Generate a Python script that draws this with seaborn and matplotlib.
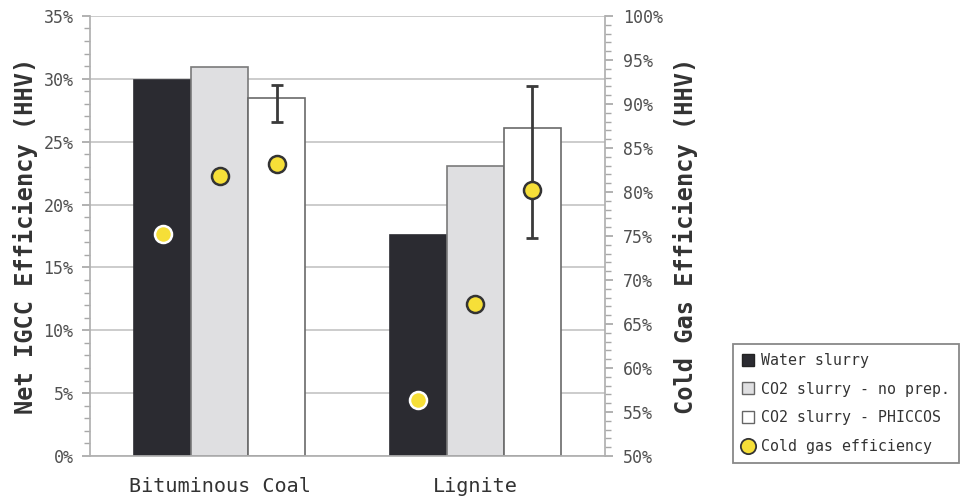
import matplotlib
matplotlib.use("Agg")
import matplotlib.pyplot as plt
import matplotlib.ticker as mticker
from matplotlib.lines import Line2D
import seaborn as sns
import pandas as pd
import numpy as np

# ---- data ----
categories = ["Bituminous Coal", "Lignite"]
series = ["Water slurry", "CO2 slurry - no prep.", "CO2 slurry - PHICCOS"]
water_slurry = [29.9, 17.6]
co2_noprep = [30.9, 23.1]
co2_phiccos = [28.5, 26.1]
phiccos_err_low = [26.6, 17.3]
phiccos_err_high = [29.5, 29.4]
cold_gas_water = [75.2, 56.4]
cold_gas_noprep = [81.8, 67.3]
cold_gas_phiccos = [83.2, 80.2]

df = pd.DataFrame({
    "cat": categories * 3,
    "series": [series[0]] * 2 + [series[1]] * 2 + [series[2]] * 2,
    "eff": water_slurry + co2_noprep + co2_phiccos,
})

bar_colors = ["#2b2b31", "#dfdfe1", "#ffffff"]
edge_colors = ["#2b2b31", "#7a7a7a", "#6a6a6a"]
dot_face = "#f6df38"

sns.set_theme(style="white")
plt.rcParams["font.family"] = ["DejaVu Sans Mono", "DejaVu Sans"]

fig = plt.figure(figsize=(9.61, 4.97), dpi=100)
ax = fig.add_axes([0.0937, 0.0825, 0.5358, 0.8855])

sns.barplot(data=df, x="cat", y="eff", hue="series", hue_order=series,
            order=categories, palette=bar_colors, width=0.668,
            errorbar=None, legend=False, ax=ax, saturation=1, zorder=2)

for cont, ec in zip(ax.containers, edge_colors):
    for p in cont.patches:
        p.set_edgecolor(ec)
        p.set_linewidth(1.2)

ax.set_xlim(-0.506, 1.506)
ax.set_ylim(0, 35)
ax.yaxis.set_major_locator(mticker.MultipleLocator(5))
ax.yaxis.set_minor_locator(mticker.MultipleLocator(1))
ax.yaxis.set_major_formatter(mticker.FuncFormatter(lambda v, p: f"{v:.0f}%"))
ax.grid(axis="y", which="major", color="#c4c4c4", linewidth=1.2, zorder=0)
ax.set_axisbelow(True)
for s in ["top", "right"]:
    ax.spines[s].set_visible(False)
ax.spines["left"].set_color("#b0b0b0")
ax.spines["bottom"].set_color("#b0b0b0")
ax.tick_params(axis="y", which="major", length=6, color="#a8a8a8", left=True,
               labelsize=12, labelcolor="#505050", pad=6)
ax.tick_params(axis="y", which="minor", length=4, color="#a8a8a8", left=True)
ax.tick_params(axis="x", length=0, labelsize=14.5, labelcolor="#333333", pad=15)
ax.set_xlabel("")
ax.set_ylabel("Net IGCC Efficiency (HHV)", fontsize=17, fontweight="bold",
              color="#333333", labelpad=4)

# error bars on PHICCOS bars
ph = ax.containers[2]
xs_ph = [p.get_x() + p.get_width() / 2 for p in ph.patches]
yerr = [np.array(co2_phiccos) - np.array(phiccos_err_low),
        np.array(phiccos_err_high) - np.array(co2_phiccos)]
ax.errorbar(xs_ph, co2_phiccos, yerr=yerr, fmt="none", ecolor="#3a3a3a",
            elinewidth=2, capsize=4, capthick=2, zorder=4)

# secondary axis - cold gas efficiency
ax2 = ax.twinx()
ax2.set_ylim(50, 100)
ax2.yaxis.set_major_locator(mticker.MultipleLocator(5))
ax2.yaxis.set_minor_locator(mticker.MultipleLocator(1))
ax2.yaxis.set_major_formatter(mticker.FuncFormatter(lambda v, p: f"{v:.0f}%"))
for s in ["top", "left", "bottom"]:
    ax2.spines[s].set_visible(False)
ax2.spines["right"].set_color("#b0b0b0")
ax2.tick_params(axis="y", which="major", length=6, color="#a8a8a8", right=True,
                labelsize=12, labelcolor="#505050", pad=7)
ax2.tick_params(axis="y", which="minor", length=4, color="#a8a8a8", right=True)
ax2.set_ylabel("Cold Gas Efficiency (HHV)", fontsize=17, fontweight="bold",
               color="#333333", labelpad=7)
ax2.grid(False)

cold_vals = [cold_gas_water, cold_gas_noprep, cold_gas_phiccos]
dot_edges = ["#ffffff", "#333333", "#333333"]
for cont, vals, de in zip(ax.containers, cold_vals, dot_edges):
    xs = [p.get_x() + p.get_width() / 2 for p in cont.patches]
    sns.scatterplot(x=xs, y=vals, ax=ax2, s=150, color=dot_face,
                    edgecolor=de, linewidth=1.8, zorder=5, legend=False)

# legend
handles = [
    Line2D([], [], marker="s", linestyle="none", markersize=8,
           markerfacecolor=bar_colors[0], markeredgecolor="#222222"),
    Line2D([], [], marker="s", linestyle="none", markersize=8,
           markerfacecolor=bar_colors[1], markeredgecolor="#666666"),
    Line2D([], [], marker="s", linestyle="none", markersize=8,
           markerfacecolor=bar_colors[2], markeredgecolor="#666666"),
    Line2D([], [], marker="o", linestyle="none", markersize=11,
           markerfacecolor=dot_face, markeredgecolor="#333333", markeredgewidth=1.3),
]
labels = series + ["Cold gas efficiency"]
leg = fig.legend(handles, labels, loc="lower left",
                 bbox_to_anchor=(0.763, 0.068), bbox_transform=fig.transFigure,
                 fontsize=10.7, frameon=True, fancybox=False, framealpha=1,
                 edgecolor="#888888", handlelength=0.8, handletextpad=0.45,
                 labelspacing=0.93, borderpad=0.6, borderaxespad=0)
leg.get_frame().set_linewidth(1.3)
for t in leg.get_texts():
    t.set_color("#333333")

fig.savefig("out.png", dpi=100)
